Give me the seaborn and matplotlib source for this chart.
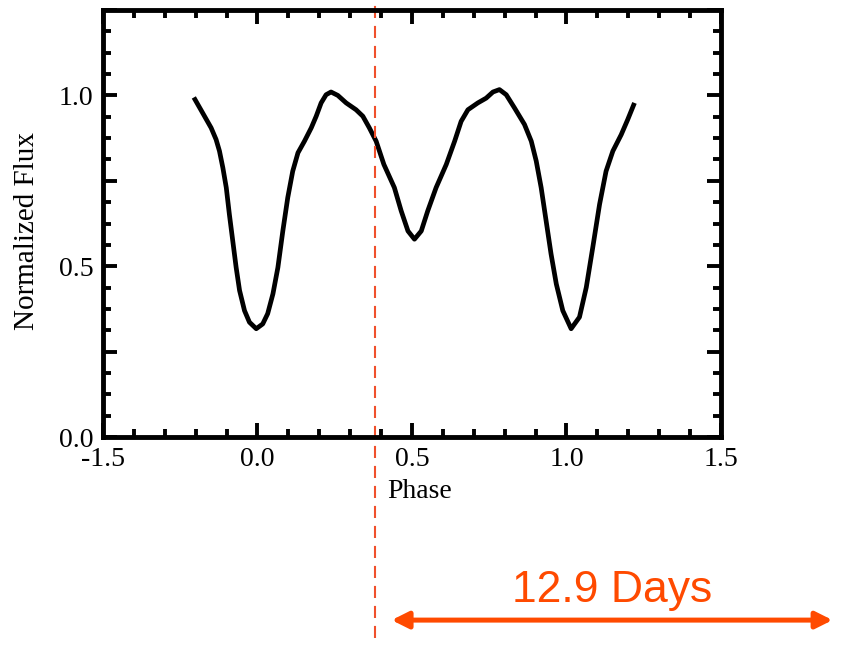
import matplotlib
matplotlib.use("Agg")
import matplotlib.pyplot as plt
import seaborn as sns
import pandas as pd
from matplotlib.ticker import FixedLocator, FixedFormatter, MultipleLocator

# Phase-folded light curve of the eclipsing binary
phase = [-0.206, -0.177, -0.150, -0.134, -0.123, -0.112, -0.101, -0.091, -0.080,
         -0.069, -0.058, -0.042, -0.026, -0.004, 0.017, 0.033, 0.050, 0.066,
         0.082, 0.098, 0.114, 0.131, 0.152, 0.174, 0.190, 0.206, 0.222, 0.238,
         0.260, 0.287, 0.319, 0.341, 0.362, 0.384, 0.409, 0.443, 0.465, 0.487,
         0.508, 0.530, 0.551, 0.578, 0.611, 0.638, 0.659, 0.681, 0.713, 0.740,
         0.762, 0.783, 0.805, 0.832, 0.864, 0.886, 0.902, 0.918, 0.934, 0.950,
         0.967, 0.988, 1.015, 1.042, 1.064, 1.085, 1.107, 1.128, 1.150, 1.177,
         1.198, 1.220]
flux = [0.994, 0.948, 0.905, 0.871, 0.837, 0.788, 0.730, 0.652, 0.574,
        0.496, 0.429, 0.370, 0.336, 0.317, 0.331, 0.361, 0.419, 0.496,
        0.603, 0.701, 0.778, 0.832, 0.866, 0.905, 0.939, 0.978, 1.002, 1.010,
        1.000, 0.978, 0.958, 0.939, 0.905, 0.866, 0.798, 0.730, 0.662, 0.603,
        0.579, 0.603, 0.662, 0.730, 0.798, 0.866, 0.924, 0.958, 0.978, 0.992,
        1.010, 1.017, 1.002, 0.963, 0.915, 0.866, 0.808, 0.730, 0.633, 0.536,
        0.448, 0.370, 0.317, 0.351, 0.438, 0.555, 0.681, 0.778, 0.837, 0.885,
        0.929, 0.978]

x_ticks = [-0.5, 0.0, 0.5, 1.0, 1.5]
x_tick_labels = ["-1.5", "0.0", "0.5", "1.0", "1.5"]
y_ticks = [0.0, 0.25, 0.5, 0.75, 1.0, 1.25]
y_tick_labels = ["0.0", "", "0.5", "", "1.0", ""]

cut_phase = 0.379          # vertical marker
span_start, span_end = 0.434, 1.861
span_level = -0.536
span_label = "12.9 Days"

sns.set_style("ticks")
plt.rcParams["font.family"] = ["Liberation Serif", "DejaVu Serif"]

df = pd.DataFrame({"Phase": phase, "Normalized Flux": flux})

fig = plt.figure(figsize=(8.42, 6.54), dpi=100)
ax = fig.add_axes([0.1223, 0.3318, 0.734, 0.6529])

sns.lineplot(data=df, x="Phase", y="Normalized Flux", sort=False, ax=ax,
             color="black", lw=3.4, solid_joinstyle="round",
             solid_capstyle="butt")

ax.set_xlim(-0.5, 1.5)
ax.set_ylim(0.0, 1.25)

ax.xaxis.set_major_locator(FixedLocator(x_ticks))
ax.xaxis.set_major_formatter(FixedFormatter(x_tick_labels))
ax.xaxis.set_minor_locator(MultipleLocator(0.1))
ax.yaxis.set_major_locator(FixedLocator(y_ticks))
ax.yaxis.set_major_formatter(FixedFormatter(y_tick_labels))
ax.yaxis.set_minor_locator(MultipleLocator(0.0625))

for side in ["left", "right", "top", "bottom"]:
    ax.spines[side].set_visible(True)
    ax.spines[side].set_linewidth(3.5)
    ax.spines[side].set_color("black")

ax.tick_params(which="both", direction="in", top=True, right=True,
               color="black", width=2.8)
ax.tick_params(which="major", length=10)
ax.tick_params(which="minor", length=5.5)
ax.tick_params(axis="x", which="major", labelsize=20, pad=7,
               labelcolor="black")
ax.tick_params(axis="y", which="major", labelsize=20, pad=7,
               labelcolor="black")

ax.set_xlabel("Phase", fontsize=20, color="black")
ax.set_ylabel("Normalized Flux", fontsize=21, color="black")
ax.xaxis.set_label_coords(0.513, -0.098)
ax.yaxis.set_label_coords(-0.102, 0.482)

# Dashed marker running past the frame
ax.axvline(cut_phase, ymin=-0.471, ymax=1.03, color="#F0502C", lw=1.5,
           ls=(0, (5.8, 3.8)), clip_on=False)

# Period span arrow and its label
ax.annotate("", xy=(span_end, span_level), xytext=(span_start, span_level),
            annotation_clip=False,
            arrowprops=dict(arrowstyle="<|-|>,head_length=1.0,head_width=0.5",
                            color="#FF4A00", lw=3.6, shrinkA=0, shrinkB=0))
ax.text((span_start + span_end) / 2, -0.484, span_label,
        ha="center", va="baseline", fontsize=32, color="#FF4A00",
        family=["Liberation Sans", "DejaVu Sans"], clip_on=False)

fig.savefig("out.png", dpi=100)
